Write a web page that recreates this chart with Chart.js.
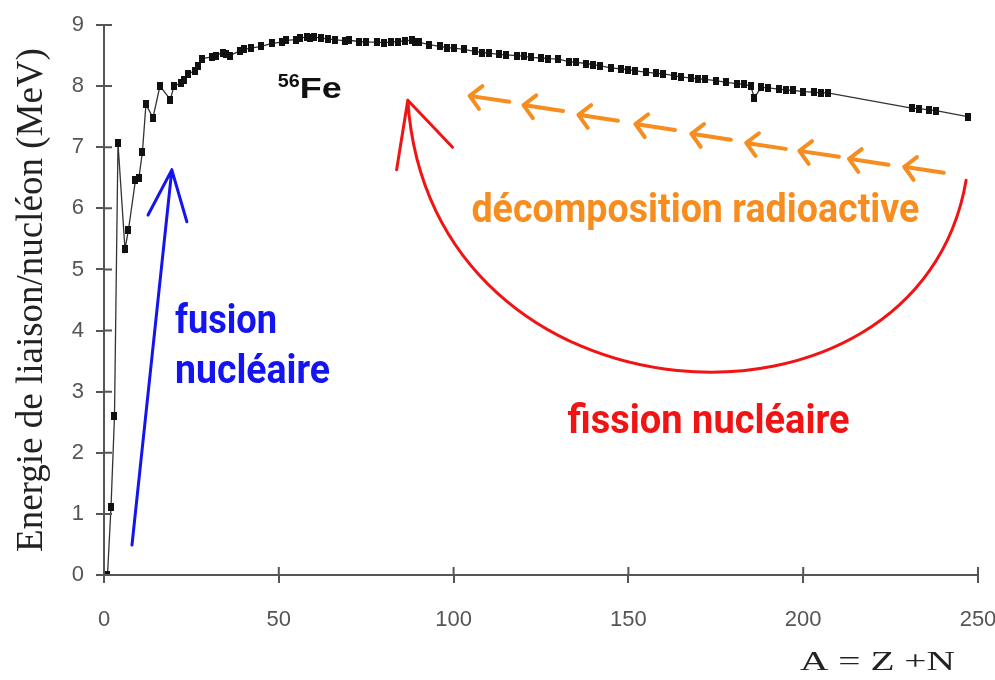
<!DOCTYPE html>
<html>
<head>
<meta charset="utf-8">
<script src="https://cdn.jsdelivr.net/npm/chart.js@4.4.1/dist/chart.umd.min.js"></script>
<style>
  html, body { margin: 0; padding: 0; background: #fff; }
  #wrap { width: 995px; height: 680px; }
</style>
</head>
<body>
<div id="wrap"><canvas id="bindingChart" width="995" height="680"></canvas></div>
<script>
// Mass number A = Z + N and binding energy per nucleon (MeV)
const massNumbers = [1, 2, 3, 4, 6, 7, 9, 10, 11, 12, 14, 16, 19, 20, 22, 23, 24, 26, 27, 28,
  31, 32, 34, 35, 36, 39, 40, 42, 45, 48, 51, 52, 55, 56, 58, 59, 60, 62, 64, 66,
  69, 70, 73, 75, 78, 80, 82, 84, 86, 88, 89, 90, 93, 96, 98, 100, 103, 106, 108, 110,
  113, 115, 118, 120, 122, 125, 127, 130, 133, 135, 138, 140, 142, 145, 148, 150, 152, 155, 158, 160,
  163, 165, 168, 170, 172, 175, 178, 181, 183, 185, 186, 188, 190, 193, 195, 197, 200, 203, 205, 207,
  231, 233, 236, 238, 247];
const bindingEnergy = [0, 1.11, 2.6, 7.07, 5.33, 5.65, 6.46, 6.5, 6.93, 7.7, 7.48, 8.0, 7.78, 8.0, 8.05, 8.1, 8.2, 8.25, 8.33, 8.45,
  8.48, 8.5, 8.55, 8.52, 8.5, 8.58, 8.6, 8.62, 8.65, 8.7, 8.72, 8.75, 8.76, 8.79, 8.8, 8.78, 8.8, 8.79, 8.77, 8.76,
  8.74, 8.75, 8.73, 8.72, 8.72, 8.71, 8.72, 8.73, 8.74, 8.75, 8.73, 8.72, 8.68, 8.65, 8.63, 8.62, 8.6, 8.57, 8.55, 8.54,
  8.52, 8.51, 8.5, 8.49, 8.47, 8.46, 8.45, 8.44, 8.4, 8.39, 8.37, 8.35, 8.33, 8.3, 8.28, 8.27, 8.25, 8.23, 8.21, 8.2,
  8.17, 8.15, 8.13, 8.12, 8.11, 8.09, 8.06, 8.04, 8.03, 8.0, 7.81, 7.98, 7.97, 7.95, 7.94, 7.93, 7.91, 7.9, 7.89, 7.89,
  7.64, 7.63, 7.61, 7.6, 7.5];
const xTicks = [0, 50, 100, 150, 200, 250];
const yTicks = [0, 1, 2, 3, 4, 5, 6, 7, 8, 9];

// annotation anchors, in data units (A, MeV)
const fusionArrow = [[8, 0.49], [19.4, 6.63]];
const fusionWings = [[12.6, 5.89], [23.7, 5.78]];
const fissionCurve = [[246.6, 6.46], [233, 1.88], [93, 2.3], [86.9, 7.77]];
const fissionWings = [[83.7, 6.63], [99.7, 7.0]];
const decayTipA = [104.6, 120.0, 135.7, 152.0, 168.0, 183.7, 198.9, 213.1, 228.9];
const decayTipE = [7.84, 7.69, 7.53, 7.38, 7.22, 7.07, 6.94, 6.81, 6.68];

const points = massNumbers.map((a, i) => ({ x: a, y: bindingEnergy[i] }));

const BLUE = '#1414f0';
const RED = '#f01414';
const ORANGE = '#f78d1e';
const AXIS = '#555';

// narrow square marker, like the squashed scan
const marker = document.createElement('canvas');
marker.width = 6;
marker.height = 8;
const mctx = marker.getContext('2d');
mctx.fillStyle = '#111';
mctx.fillRect(0, 0, 6, 8);

function fitText(ctx, text, x, y, width, font, color) {
  ctx.save();
  ctx.font = font;
  ctx.fillStyle = color;
  ctx.textBaseline = 'alphabetic';
  ctx.textAlign = 'left';
  const w = ctx.measureText(text).width;
  ctx.translate(x, y);
  ctx.scale(width / w, 1);
  ctx.fillText(text, 0, 0);
  ctx.restore();
}

const innerTicks = {
  id: 'innerTicks',
  afterDraw(chart) {
    const { ctx, scales: { x, y } } = chart;
    ctx.save();
    ctx.strokeStyle = AXIS;
    ctx.lineWidth = 2;
    ctx.beginPath();
    xTicks.forEach(v => {
      const px = x.getPixelForValue(v);
      ctx.moveTo(px, y.bottom);
      ctx.lineTo(px, y.bottom - 8);
    });
    yTicks.forEach(v => {
      const py = y.getPixelForValue(v);
      ctx.moveTo(x.left, py);
      ctx.lineTo(x.left + 8, py);
    });
    ctx.stroke();
    ctx.restore();
  }
};

const annotations = {
  id: 'annotations',
  afterDraw(chart) {
    const { ctx, scales: { x, y }, chartArea } = chart;
    const P = (p) => [x.getPixelForValue(p[0]), y.getPixelForValue(p[1])];
    ctx.save();
    ctx.lineCap = 'round';
    ctx.lineJoin = 'round';

    // fusion arrow
    ctx.strokeStyle = BLUE;
    ctx.lineWidth = 3;
    const [t0, t1] = fusionArrow.map(P);
    ctx.beginPath();
    ctx.moveTo(t0[0], t0[1]);
    ctx.lineTo(t1[0], t1[1]);
    fusionWings.map(P).forEach(w => { ctx.moveTo(t1[0], t1[1]); ctx.lineTo(w[0], w[1]); });
    ctx.stroke();

    // fission curved arrow
    ctx.strokeStyle = RED;
    ctx.lineWidth = 3;
    const c = fissionCurve.map(P);
    ctx.beginPath();
    ctx.moveTo(c[0][0], c[0][1]);
    ctx.bezierCurveTo(c[1][0], c[1][1], c[2][0], c[2][1], c[3][0], c[3][1]);
    fissionWings.map(P).forEach(w => { ctx.moveTo(c[3][0], c[3][1]); ctx.lineTo(w[0], w[1]); });
    ctx.stroke();

    // radioactive decay arrows
    ctx.strokeStyle = ORANGE;
    ctx.lineWidth = 4;
    decayTipA.forEach((a, i) => {
      const [tx, ty] = P([a, decayTipE[i]]);
      const ang = Math.atan2(6, 40);
      ctx.beginPath();
      ctx.moveTo(tx + 40 * Math.cos(ang), ty + 40 * Math.sin(ang));
      ctx.lineTo(tx, ty);
      ctx.moveTo(tx + 16 * Math.cos(ang - 0.8), ty + 16 * Math.sin(ang - 0.8));
      ctx.lineTo(tx, ty);
      ctx.lineTo(tx + 16 * Math.cos(ang + 0.8), ty + 16 * Math.sin(ang + 0.8));
      ctx.stroke();
    });

    const bold = 'bold 40px Roboto, "Liberation Sans", sans-serif';
    let p = P([20.3, 3.96]);
    fitText(ctx, 'fusion', p[0], p[1], 102, bold, BLUE);
    p = P([20.3, 3.14]);
    fitText(ctx, 'nucléaire', p[0], p[1], 155, bold, BLUE);
    p = P([105.1, 5.78]);
    fitText(ctx, 'décomposition radioactive', p[0], p[1], 448, bold, ORANGE);
    p = P([132.6, 2.32]);
    fitText(ctx, 'fission nucléaire', p[0], p[1], 282, bold, RED);

    // 56Fe label
    p = P([49.7, 7.99]);
    fitText(ctx, '56', p[0], p[1], 22, 'bold 19px "Liberation Sans", sans-serif', '#111');
    p = P([56, 7.81]);
    fitText(ctx, 'Fe', p[0], p[1], 42, 'bold 30px "Liberation Sans", sans-serif', '#111');

    // x-axis title
    fitText(ctx, 'A = Z +N', chartArea.right - 178, 670, 155, '28px "Liberation Serif", serif', '#222');
    ctx.restore();
  }
};

const ctx = document.getElementById('bindingChart').getContext('2d');
const bindingChart = new Chart(ctx, {
  type: 'scatter',
  data: {
    datasets: [{
      label: 'Energie de liaison/nucléon',
      data: points,
      showLine: true,
      borderColor: '#333',
      borderWidth: 1.3,
      pointStyle: marker
    }]
  },
  options: {
    responsive: false,
    animation: false,
    devicePixelRatio: 1,
    layout: { padding: { top: 25, right: 17, left: 0, bottom: 0 } },
    plugins: { legend: { display: false }, tooltip: { enabled: false } },
    scales: {
      x: {
        type: 'linear',
        min: 0,
        max: 250,
        afterBuildTicks: (scale) => { scale.ticks = xTicks.map(v => ({ value: v })); },
        afterFit: (scale) => { scale.height = 105; scale.paddingLeft = 0; scale.paddingRight = 0; },
        ticks: { color: AXIS, padding: 24, maxRotation: 0, font: { family: '"Liberation Sans", sans-serif', size: 22 } },
        grid: { display: true, drawOnChartArea: false, drawTicks: true, tickLength: 8, color: AXIS, lineWidth: 2 },
        border: { display: true, color: AXIS, width: 2 }
      },
      y: {
        min: 0,
        max: 9,
        afterBuildTicks: (scale) => { scale.ticks = yTicks.map(v => ({ value: v })); },
        afterFit: (scale) => { scale.width = 104; scale.paddingTop = 0; scale.paddingBottom = 0; },
        ticks: { color: AXIS, padding: 12, font: { family: '"Liberation Sans", sans-serif', size: 22 } },
        grid: { display: true, drawOnChartArea: false, drawTicks: true, tickLength: 8, color: AXIS, lineWidth: 2 },
        border: { display: true, color: AXIS, width: 2 },
        title: {
          display: true,
          text: 'Energie de liaison/nucléon (MeV)',
          color: '#222',
          padding: { top: 10, bottom: 0 },
          font: { family: '"Liberation Serif", "Times New Roman", serif', size: 37, weight: 'normal' }
        }
      }
    }
  },
  plugins: [innerTicks, annotations]
});
</script>
</body>
</html>
